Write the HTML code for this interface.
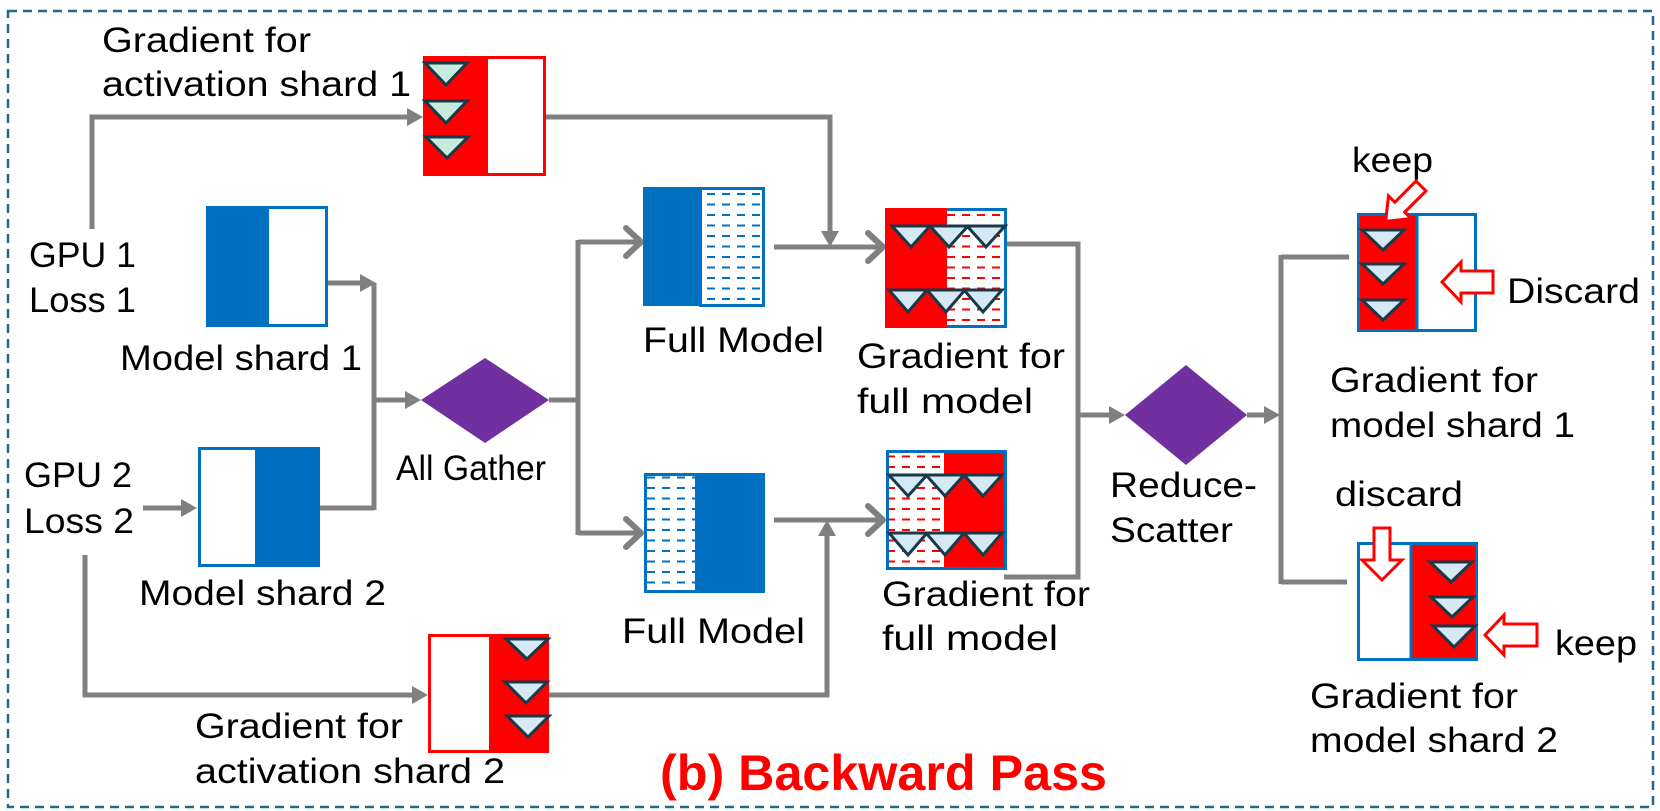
<!DOCTYPE html>
<html><head><meta charset="utf-8">
<style>
html,body{margin:0;padding:0;background:#fff;}
svg{display:block;}
text{font-family:"Liberation Sans",sans-serif;font-size:35px;fill:#000;}
</style></head>
<body>
<svg width="1660" height="811" viewBox="0 0 1660 811" xmlns="http://www.w3.org/2000/svg">
<defs>
<pattern id="bd" width="15" height="10.5" patternUnits="userSpaceOnUse">
<rect width="15" height="10.5" fill="#fff"/>
<line x1="2" y1="5" x2="10" y2="5" stroke="#0070c0" stroke-width="2"/>
</pattern>
<pattern id="rd" width="15" height="10.5" patternUnits="userSpaceOnUse">
<rect width="15" height="10.5" fill="#fff"/>
<line x1="2" y1="5" x2="10" y2="5" stroke="#ff0000" stroke-width="2"/>
</pattern>
</defs>
<rect x="0" y="0" width="1660" height="811" fill="#fff"/>
<rect x="8" y="11" width="1645" height="796" fill="none" stroke="#1f6a8a" stroke-width="2.5" stroke-dasharray="9,6"/>

<!-- connectors -->
<g fill="none" stroke="#808080" stroke-width="5">
<path d="M92,229 V117 H410"/>
<path d="M546,117 H830 V233"/>
<path d="M328,283 H362"/>
<path d="M374,283 V510"/>
<path d="M320,508 H374"/>
<path d="M374,400 H408"/>
<path d="M143,508 H183"/>
<path d="M85,555 V695 H414"/>
<path d="M549,400 H578"/>
<path d="M578,240 V535"/>
<path d="M578,242 H641"/>
<path d="M578,533 H642"/>
<path d="M774,247 H883"/>
<path d="M549,695 H827 V534"/>
<path d="M774,520 H884"/>
<path d="M1007,244 H1078 V577 H1004"/>
<path d="M1078,415 H1111"/>
<path d="M1247,415 H1266"/>
<path d="M1281,255 V584"/>
<path d="M1281,257 H1349"/>
<path d="M1281,582 H1347"/>
</g>
<g fill="#808080">
<polygon points="423,117 407,108 407,126"/>
<polygon points="830,247 821,231 839,231"/>
<polygon points="376,283 360,274 360,292"/>
<polygon points="421,400 405,391 405,409"/>
<polygon points="197,508 181,499 181,517"/>
<polygon points="428,695 412,686 412,704"/>
<polygon points="827,520 818,536 836,536"/>
<polygon points="1125,415 1109,406 1109,424"/>
<polygon points="1280,415 1264,406 1264,424"/>
</g>
<g fill="none" stroke="#808080" stroke-width="6" stroke-linecap="round" stroke-linejoin="round">
<polyline points="626,228 641,242 626,256"/>
<polyline points="626,519 641,533 626,547"/>
<polyline points="868,233 883,247 868,261"/>
<polyline points="868,506 883,520 868,534"/>
</g>

<!-- diamonds -->
<polygon points="485,358 549,400 485,443 421,400" fill="#7030a0"/>
<polygon points="1186,365 1247,415 1186,465 1125,415" fill="#7030a0"/>

<!-- activation shard 1 -->
<rect x="423" y="56" width="62" height="120" fill="#ff0000"/>
<rect x="486.5" y="57.5" width="58" height="117" fill="#fff" stroke="#ff0000" stroke-width="3"/>
<!-- activation shard 2 -->
<rect x="429.5" y="635.5" width="61" height="116" fill="#fff" stroke="#ff0000" stroke-width="3"/>
<rect x="491" y="634" width="58" height="119" fill="#ff0000"/>

<!-- model shard 1 -->
<rect x="206" y="206" width="60" height="121" fill="#0070c0"/>
<rect x="267.5" y="207.5" width="59" height="118" fill="#fff" stroke="#0070c0" stroke-width="3"/>
<!-- model shard 2 -->
<rect x="199.5" y="448.5" width="57" height="117" fill="#fff" stroke="#0070c0" stroke-width="3"/>
<rect x="257" y="447" width="63" height="120" fill="#0070c0"/>

<!-- full model 1 -->
<rect x="700.5" y="188.5" width="63" height="117" fill="url(#bd)" stroke="#0070c0" stroke-width="3"/>
<rect x="643" y="187" width="56" height="119" fill="#0070c0"/>
<!-- full model 2 -->
<rect x="645.5" y="474.5" width="51" height="117" fill="url(#bd)" stroke="#0070c0" stroke-width="3"/>
<rect x="696" y="473" width="69" height="120" fill="#0070c0"/>

<!-- gradient full 1 -->
<rect x="886.5" y="209.5" width="119" height="117" fill="url(#rd)" stroke="#0070c0" stroke-width="3"/>
<rect x="885" y="208" width="62" height="120" fill="#ff0000"/>
<!-- gradient full 2 -->
<rect x="887.5" y="451.5" width="118" height="117" fill="url(#rd)" stroke="#0070c0" stroke-width="3"/>
<rect x="944" y="453" width="60" height="114" fill="#ff0000"/>

<!-- grad model shard 1 -->
<rect x="1358.5" y="214.5" width="117" height="116" fill="#fff" stroke="#0070c0" stroke-width="3"/>
<rect x="1360" y="216" width="57" height="113" fill="#ff0000"/>
<line x1="1417" y1="214" x2="1417" y2="331" stroke="#0070c0" stroke-width="3"/>
<!-- grad model shard 2 -->
<rect x="1358.5" y="543.5" width="118" height="116" fill="#fff" stroke="#0070c0" stroke-width="3"/>
<rect x="1411" y="545" width="64" height="113" fill="#ff0000"/>
<line x1="1411" y1="543" x2="1411" y2="660" stroke="#0070c0" stroke-width="3"/>

<!-- triangles -->
<g stroke="#17394a" stroke-width="3" stroke-linejoin="miter">
<g fill="#c8ecdc">
<polygon points="425,63 467,63 446,85"/>
<polygon points="425,101 467,101 446,123"/>
<polygon points="426,137 468,137 447,158"/>
</g>
<g fill="#d5e9f5">
<polygon points="506,639 548,639 527,659"/>
<polygon points="505,682 547,682 526,703"/>
<polygon points="507,716 549,716 528,737"/>
<polygon points="892,226 930,226 911,247"/>
<polygon points="930,226 968,226 949,247"/>
<polygon points="967,226 1005,226 986,247"/>
<polygon points="889,290 927,290 908,312"/>
<polygon points="927,290 965,290 946,312"/>
<polygon points="964,290 1002,290 983,312"/>
<polygon points="889,475 927,475 908,496"/>
<polygon points="926,475 964,475 945,496"/>
<polygon points="964,475 1002,475 983,496"/>
<polygon points="889,533 927,533 908,555"/>
<polygon points="926,533 964,533 945,555"/>
<polygon points="964,533 1002,533 983,555"/>
<polygon points="1362,230 1404,230 1383,250"/>
<polygon points="1362,264 1404,264 1383,284"/>
<polygon points="1362,300 1404,300 1383,320"/>
<polygon points="1430,562 1472,562 1451,582"/>
<polygon points="1431,597 1473,597 1452,617"/>
<polygon points="1433,626 1475,626 1454,647"/>
</g>
</g>

<!-- red block arrows -->
<g fill="#fff" stroke="#ff0000" stroke-width="3" stroke-linejoin="miter">
<polygon points="1442,282 1461,262 1461,271 1493,271 1493,293 1461,293 1461,302"/>
<polygon points="1485,635 1504,615 1504,624 1537,624 1537,646 1504,646 1504,655"/>
<polygon points="1374,528 1390,528 1390,560 1402,560 1382,580 1362,560 1374,560"/>
<polygon transform="translate(1421,186) rotate(45)" points="-7,0 7,0 7,30 16,30 0,50 -16,30 -7,30"/>
</g>

<!-- labels -->
<text x="102" y="52" textLength="209" lengthAdjust="spacingAndGlyphs">Gradient for</text>
<text x="102" y="96" textLength="309" lengthAdjust="spacingAndGlyphs">activation shard 1</text>
<text x="29" y="267" textLength="107" lengthAdjust="spacingAndGlyphs">GPU 1</text>
<text x="29" y="312" textLength="107" lengthAdjust="spacingAndGlyphs">Loss 1</text>
<text x="120" y="370" textLength="242" lengthAdjust="spacingAndGlyphs">Model shard 1</text>
<text x="396" y="480" textLength="150" lengthAdjust="spacingAndGlyphs">All Gather</text>
<text x="24" y="487" textLength="108" lengthAdjust="spacingAndGlyphs">GPU 2</text>
<text x="24" y="533" textLength="110" lengthAdjust="spacingAndGlyphs">Loss 2</text>
<text x="139" y="605" textLength="247" lengthAdjust="spacingAndGlyphs">Model shard 2</text>
<text x="195" y="738" textLength="208" lengthAdjust="spacingAndGlyphs">Gradient for</text>
<text x="195" y="783" textLength="310" lengthAdjust="spacingAndGlyphs">activation shard 2</text>
<text x="643" y="352" textLength="181" lengthAdjust="spacingAndGlyphs">Full Model</text>
<text x="622" y="643" textLength="183" lengthAdjust="spacingAndGlyphs">Full Model</text>
<text x="857" y="368" textLength="208" lengthAdjust="spacingAndGlyphs">Gradient for</text>
<text x="857" y="413" textLength="176" lengthAdjust="spacingAndGlyphs">full model</text>
<text x="882" y="606" textLength="208" lengthAdjust="spacingAndGlyphs">Gradient for</text>
<text x="882" y="650" textLength="176" lengthAdjust="spacingAndGlyphs">full model</text>
<text x="1110" y="497" textLength="147" lengthAdjust="spacingAndGlyphs">Reduce-</text>
<text x="1110" y="542" textLength="123" lengthAdjust="spacingAndGlyphs">Scatter</text>
<text x="1352" y="172" textLength="81" lengthAdjust="spacingAndGlyphs">keep</text>
<text x="1507" y="303" textLength="133" lengthAdjust="spacingAndGlyphs">Discard</text>
<text x="1330" y="392" textLength="208" lengthAdjust="spacingAndGlyphs">Gradient for</text>
<text x="1330" y="437" textLength="245" lengthAdjust="spacingAndGlyphs">model shard 1</text>
<text x="1335" y="506" textLength="128" lengthAdjust="spacingAndGlyphs">discard</text>
<text x="1555" y="655" textLength="82" lengthAdjust="spacingAndGlyphs">keep</text>
<text x="1310" y="708" textLength="208" lengthAdjust="spacingAndGlyphs">Gradient for</text>
<text x="1310" y="752" textLength="248" lengthAdjust="spacingAndGlyphs">model shard 2</text>
<text x="660" y="790" style="font-size:50px;font-weight:bold;fill:#ff0000" textLength="447" lengthAdjust="spacingAndGlyphs">(b) Backward Pass</text>
</svg>
</body></html>
